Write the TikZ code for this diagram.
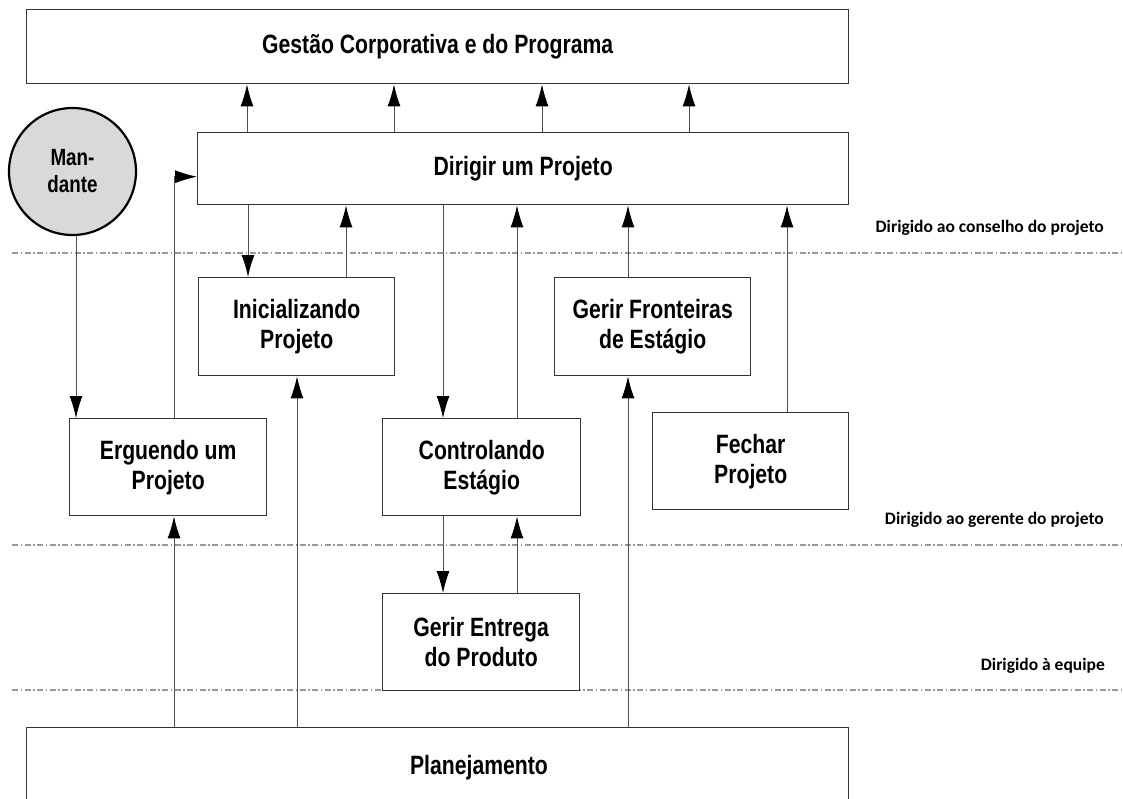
\documentclass[tikz,border=0pt]{standalone}
\usepackage{fontspec}
\usetikzlibrary{arrows.meta}
\newfontfamily\narrowsans[FakeStretch=0.80]{Liberation Sans}
\newfontfamily\calfont{Carlito}
\definecolor{framec}{HTML}{333333}
\definecolor{linec}{HTML}{505050}
\definecolor{zonec}{HTML}{9A9A9A}
\definecolor{sponsorfill}{HTML}{D9D9D9}

\begin{document}
\begin{tikzpicture}[x=1pt,y=-1pt,
  procbox/.style={draw=framec, line width=1.4pt, fill=white, inner sep=0pt,
    anchor=north west, align=center,
    font=\narrowsans\bfseries\fontsize{26.5}{30}\selectfont},
  boxtext/.style={inner sep=0pt, font=\narrowsans\bfseries\fontsize{26.5}{30}\selectfont},
  flow/.style={draw=linec, line width=0.9pt, -{Latex[length=22pt,width=13pt,black]}},
  zone/.style={draw=zonec, line width=1.1pt,
    dash pattern=on 6pt off 2.5pt on 1.5pt off 2.5pt},
  zonelabel/.style={anchor=east, inner sep=0pt,
    font=\calfont\bfseries\fontsize{17.5}{20}\selectfont}
]
% page
\fill[white] (0,0) rectangle (1123,798);
\clip (0,0) rectangle (1123,798);

% level separators
\coordinate (zl1) at (12,253);  \coordinate (zr1) at (1123,253);
\coordinate (zl2) at (12,545);  \coordinate (zr2) at (1123,545);
\coordinate (zl3) at (12,690);  \coordinate (zr3) at (1123,690);
\draw[zone] (zl1) -- (zr1);
\draw[zone] (zl2) -- (zr2);
\draw[zone] (zl3) -- (zr3);

% level labels
\node[zonelabel] (lvboard) at (1104,228) {Dirigido ao conselho do projeto};
\node[zonelabel] (lvpm)    at (1104,520) {Dirigido ao gerente do projeto};
\node[zonelabel] (lvteam)  at (1105,666) {Dirigido à equipe};

% processes
\node[procbox, minimum width=822pt, minimum height=74pt] (gest) at (26,9)
  {Gestão Corporativa e do Programa};
\node[procbox, minimum width=651pt, minimum height=72pt] (dir) at (197,132)
  {Dirigir um Projeto};
\node[procbox, minimum width=196pt, minimum height=98pt] (ini) at (198,277)
  {Inicializando\\Projeto};
\node[procbox, minimum width=196pt, minimum height=98pt] (gfr) at (554,277)
  {Gerir Fronteiras\\de Estágio};
\node[procbox, minimum width=197pt, minimum height=97pt] (erg) at (69,418)
  {Erguendo um\\Projeto};
\node[procbox, minimum width=198pt, minimum height=97pt] (ctl) at (382,418)
  {Controlando\\Estágio};
\node[procbox, minimum width=196pt, minimum height=97pt] (fec) at (652,412)
  {Fechar\\Projeto};
\node[procbox, minimum width=197pt, minimum height=97pt] (gep) at (382,593)
  {Gerir Entrega\\do Produto};
\node[procbox, minimum width=822pt, minimum height=90pt] (pla) at (26,727) {};
\node[boxtext] (platext) at (479,768) {Planejamento};

% sponsor
\node[circle, draw=black, line width=2.2pt, fill=sponsorfill, minimum size=127pt,
  inner sep=0pt, align=center,
  font=\narrowsans\bfseries\fontsize{23.5}{27}\selectfont] (mand) at (72.5,171.5)
  {Man-\\dante};

% connector columns
\coordinate (u1) at (247,0);
\coordinate (u2) at (394,0);
\coordinate (u3) at (542,0);
\coordinate (u4) at (689,0);
\coordinate (d1) at (248,0);
\coordinate (d2) at (346,0);
\coordinate (d3) at (443,0);
\coordinate (d4) at (517,0);
\coordinate (d5) at (628,0);
\coordinate (d6) at (787,0);
\coordinate (m1) at (76,0);
\coordinate (e1) at (174,0);
\coordinate (p2) at (297,0);

% Dirigir -> Gestao
\draw[flow] (u1 |- dir.north) -- (u1 |- gest.south);
\draw[flow] (u2 |- dir.north) -- (u2 |- gest.south);
\draw[flow] (u3 |- dir.north) -- (u3 |- gest.south);
\draw[flow] (u4 |- dir.north) -- (u4 |- gest.south);

% board level <-> manager level
\draw[flow] (d1 |- dir.south) -- (d1 |- ini.north);
\draw[flow] (d2 |- ini.north) -- (d2 |- dir.south);
\draw[flow] (d3 |- dir.south) -- (d3 |- ctl.north);
\draw[flow] (d4 |- ctl.north) -- (d4 |- dir.south);
\draw[flow] (d5 |- gfr.north) -- (d5 |- dir.south);
\draw[flow] (d6 |- fec.north) -- (d6 |- dir.south);

% sponsor and start-up
\draw[flow] (m1 |- mand.south) -- (m1 |- erg.north);
\draw[flow] (e1 |- erg.north) |- ([yshift=-8pt]dir.west);

% stage control <-> product delivery
\draw[flow] (d3 |- ctl.south) -- (d3 |- gep.north);
\draw[flow] (d4 |- gep.north) -- (d4 |- ctl.south);

% planning feeds
\draw[flow] (e1 |- pla.north) -- (e1 |- erg.south);
\draw[flow] (p2 |- pla.north) -- (p2 |- ini.south);
\draw[flow] (d5 |- pla.north) -- (d5 |- gfr.south);
\end{tikzpicture}
\end{document}
